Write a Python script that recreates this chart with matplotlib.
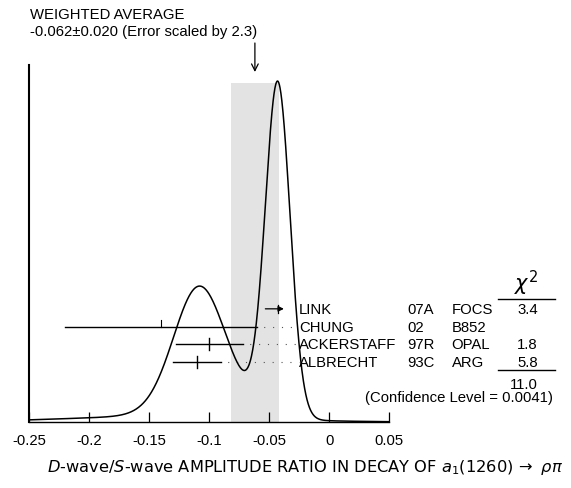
import numpy as np
import matplotlib.pyplot as plt
from matplotlib.transforms import blended_transform_factory

plt.rcParams['font.family'] = ['Liberation Sans', 'DejaVu Sans']
plt.rcParams['mathtext.fontset'] = 'dejavusans'

# measurements (value, total error) as listed in the reference
authors = ['LINK', 'CHUNG', 'ACKERSTAFF', 'ALBRECHT']
years = ['07A', '02', '97R', '93C']
experiments = ['FOCS', 'B852', 'OPAL', 'ARG']
values = [-0.043, -0.14, -0.10, -0.11]
errors = [0.0103, 0.08, 0.028, 0.02]
chi2_labels = ['3.4', '', '1.8', '5.8']
chi2_total = '11.0'
conf_level = '0.0041'

avg_value = -0.062
avg_error = 0.020
scale_factor = 2.3

x_ticks = [-0.25, -0.2, -0.15, -0.1, -0.05, 0, 0.05]
x_tick_labels = ['-0.25', '-0.2', '-0.15', '-0.1', '-0.05', '0', '0.05']

W, H = 571, 489
FS = 10.7


def fx(px):
    return px / W


def fy(py):
    return 1 - py / H


fig = plt.figure(figsize=(W / 100, H / 100), dpi=100)
ax = fig.add_axes([fx(29.3), fy(423), 360 / W, 357 / H])
ax.set_xlim(-0.25, 0.05)
ax.set_ylim(0, 1)

# ideogram: each measurement a gaussian with area ~ 1/sigma
xs = np.linspace(-0.25, 0.05, 1200)
ideo = np.zeros_like(xs)
for v, e in zip(values, errors):
    ideo += np.exp(-0.5 * ((xs - v) / e) ** 2) / e ** 2
ideo = ideo / ideo.max() * 0.955

ax.axvspan(avg_value - avg_error, avg_value + avg_error, ymin=0, ymax=0.95,
           color='#e3e3e3', lw=0, zorder=0)
ax.plot(xs, ideo, color='black', lw=1.1, zorder=3)

# error bars and dotted leaders
row_y = [0.317 - i * 0.0495 for i in range(len(values))]
label_x = -0.0253
for i, (v, e, y) in enumerate(zip(values, errors, row_y)):
    if i == 0:
        ax.annotate('', xy=(v + e / 2, y), xytext=(v - e, y),
                    arrowprops=dict(arrowstyle='-|>', color='black', lw=0.9,
                                    mutation_scale=8, shrinkA=0, shrinkB=0))
        ax.plot([v, v], [y - 0.011, y + 0.011], color='black', lw=0.9)
        continue
    ax.plot([v - e, v + e], [y, y], color='black', lw=1.0, zorder=4)
    if i == 1:
        ax.plot([v, v], [y, y + 0.017], color='black', lw=0.8, zorder=4)
    else:
        ax.plot([v, v], [y - 0.017, y + 0.017], color='black', lw=1.0, zorder=4)
    ax.plot([v + e, label_x], [y, y], color='#555555', lw=0.8,
            linestyle=(2, (1, 7)), zorder=2)

# axes styling
for s in ['top', 'right']:
    ax.spines[s].set_visible(False)
ax.spines['left'].set_linewidth(1.5)
ax.spines['bottom'].set_linewidth(1.0)
ax.set_yticks([])
ax.set_xticks(x_ticks)
ax.set_xticklabels(x_tick_labels, fontsize=FS)
ax.tick_params(axis='x', direction='in', length=7.5, width=0.9, pad=8)

# table text
tkw = dict(fontsize=FS, va='center', clip_on=False)
bt = blended_transform_factory(fig.transFigure, ax.transAxes)
for i, y in enumerate(row_y):
    ax.text(label_x, y, authors[i], ha='left', **tkw)
    ax.text(fx(407.3), y, years[i], ha='left', transform=bt, **tkw)
    ax.text(fx(451.7), y, experiments[i], ha='left', transform=bt, **tkw)
    ax.text(fx(538), y, chi2_labels[i], ha='right', transform=bt, **tkw)

fig.text(fx(526), fy(298), r'$\chi^2$', fontsize=15, ha='center', va='bottom')
fig.add_artist(plt.Line2D([fx(498), fx(555)], [fy(300), fy(300)], color='black', lw=1.0))
fig.add_artist(plt.Line2D([fx(498), fx(555)], [fy(371), fy(371)], color='black', lw=1.0))
fig.text(fx(538), fy(385), chi2_total, fontsize=FS, ha='right', va='center')
fig.text(fx(553), fy(398), f'(Confidence Level = {conf_level})', fontsize=FS,
         ha='right', va='center')

# weighted average header and arrow
fig.text(fx(30), fy(15), 'WEIGHTED AVERAGE', fontsize=FS, ha='left', va='center')
fig.text(fx(30), fy(32), f'{avg_value:.3f}\u00b1{avg_error:.3f} (Error scaled by {scale_factor})',
         fontsize=FS, ha='left', va='center')
ax.annotate('', xy=(avg_value, fy(73)), xytext=(avg_value, fy(44)),
            xycoords=('data', 'figure fraction'), textcoords=('data', 'figure fraction'),
            arrowprops=dict(arrowstyle='->', color='black', lw=0.9, mutation_scale=12,
                            shrinkA=0, shrinkB=0))

fig.text(fx(305), fy(468),
         r'$D$-wave/$S$-wave AMPLITUDE RATIO IN DECAY OF $a_1(1260)\,\rightarrow\,\,\rho\pi$',
         fontsize=11.7, ha='center', va='center', family='DejaVu Sans')

fig.savefig('out.png', dpi=100)
